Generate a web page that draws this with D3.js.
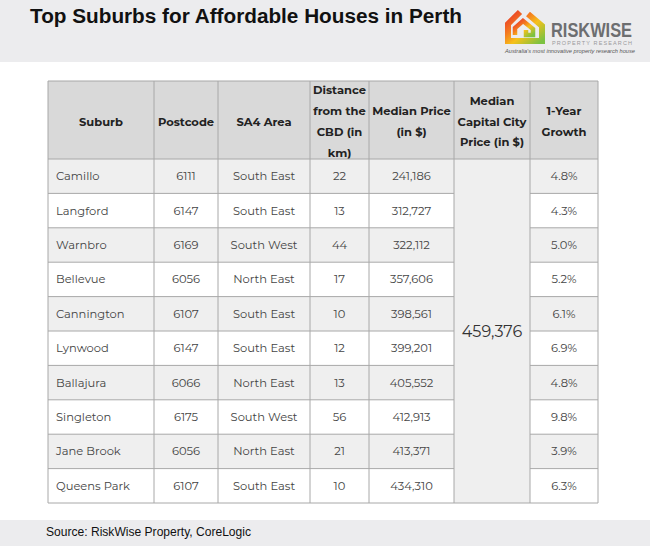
<!DOCTYPE html>
<html><head><meta charset="utf-8">
<script src="https://cdn.jsdelivr.net/npm/d3@7"></script>
<style>html,body{margin:0;padding:0;background:#fff;}svg{display:block;}</style>
</head><body>
<script>
// ---- data ----
const title = "Top Suburbs for Affordable Houses in Perth";
const source = "Source: RiskWise Property, CoreLogic";
const headers = [["Suburb"],["Postcode"],["SA4 Area"],["Distance","from the","CBD (in","km)"],["Median Price","(in $)"],["Median","Capital City","Price (in $)"],["1-Year","Growth"]];
const suburbs = ["Camillo","Langford","Warnbro","Bellevue","Cannington","Lynwood","Ballajura","Singleton","Jane Brook","Queens Park"];
const postcodes = ["6111","6147","6169","6056","6107","6147","6066","6175","6056","6107"];
const areas = ["South East","South East","South West","North East","South East","South East","North East","South West","North East","South East"];
const distances = [22,13,44,17,10,12,13,56,21,10];
const prices = [241186,312727,322112,357606,398561,399201,405552,412913,413371,434310];
const capitalPrice = 459376;
const growth = [4.8,4.3,5.0,5.2,6.1,6.9,4.8,9.8,3.9,6.3];

// ---- layout ----
const W=650,H=546;
const colEdges=[48,154,218,310,369,454,530,598];
const headTop=81, headBot=159, tableBot=503;
const fmt=d3.format(",");
const svg=d3.select("body").append("svg").attr("width",W).attr("height",H);

// top band
svg.append("rect").attr("x",0).attr("y",0).attr("width",W).attr("height",62).attr("fill","#ececee");
svg.append("text").attr("x",30).attr("y",22.5).text(title)
  .attr("font-family","Liberation Sans, Arial, sans-serif").attr("font-weight","bold").attr("font-size",20)
  .attr("textLength",432).attr("lengthAdjust","spacingAndGlyphs").attr("fill","#111");

// logo
const defs=svg.append("defs");
const g1=defs.append("linearGradient").attr("id","lg").attr("x1","0").attr("y1","0").attr("x2","1").attr("y2","1");
[["0%","#e8342a"],["35%","#f47a20"],["60%","#f6c11a"],["100%","#7cc242"]].forEach(s=>g1.append("stop").attr("offset",s[0]).attr("stop-color",s[1]));
const logo=svg.append("g");
logo.append("path").attr("d","M520,12 L508,24 L508,41 L542,41 L542,26 L528,14")
  .attr("fill","none").attr("stroke","url(#lg)").attr("stroke-width",6).attr("stroke-linejoin","miter");
logo.append("path").attr("d","M515,35 L515,28 L523,21 L533,29 L533,35 L526,35 L526,30")
  .attr("fill","none").attr("stroke","url(#lg)").attr("stroke-width",4.5);
logo.append("text").attr("x",551).attr("y",36.7).text("RISKWISE").attr("font-family","Liberation Sans, Arial, sans-serif")
  .attr("font-weight","bold").attr("font-size",19.5).attr("fill","#6d6e70").attr("textLength",81).attr("lengthAdjust","spacingAndGlyphs");
logo.append("text").attr("x",552).attr("y",45).text("PROPERTY RESEARCH").attr("font-family","Liberation Sans, Arial, sans-serif")
  .attr("font-size",5.5).attr("fill","#9a9a9c").attr("textLength",80).attr("lengthAdjust","spacing");
logo.append("text").attr("x",505).attr("y",53).text("Australia's most innovative property research house").attr("font-family","Liberation Sans, Arial, sans-serif")
  .attr("font-size",4.8).attr("font-style","italic").attr("fill","#555").attr("textLength",130).attr("lengthAdjust","spacingAndGlyphs");

// table
const y=d3.scaleBand().domain(d3.range(suburbs.length)).range([headBot,tableBot]);
const font="Montserrat, 'Open Sans', Lato, sans-serif";
const border="#a8a8a8";
const tbl=svg.append("g");
tbl.append("rect").attr("x",colEdges[0]).attr("y",headTop).attr("width",colEdges[7]-colEdges[0]).attr("height",headBot-headTop).attr("fill","#d9d9d9");
tbl.selectAll("rect.row").data(suburbs).join("rect").attr("class","row")
  .attr("x",colEdges[0]).attr("y",(d,i)=>y(i)).attr("width",colEdges[7]-colEdges[0]).attr("height",y.bandwidth())
  .attr("fill",(d,i)=>i%2===0?"#efefef":"#ffffff");
tbl.append("rect").attr("x",colEdges[5]).attr("y",headBot).attr("width",colEdges[6]-colEdges[5]).attr("height",tableBot-headBot).attr("fill","#efefef");

headers.forEach((lines,c)=>{
  const cx=(colEdges[c]+colEdges[c+1])/2, lh=20.7, cy=121.5;
  lines.forEach((l,k)=>{
    tbl.append("text").attr("x",cx).attr("y",cy+(k-(lines.length-1)/2)*lh).attr("dy","0.35em")
      .attr("text-anchor","middle").attr("font-family",font).attr("font-weight","bold").attr("font-size",11.5).attr("fill","#222").text(l);
  });
});
const cols=[suburbs,postcodes,areas,distances,prices.map(fmt),null,growth.map(d=>d.toFixed(1)+"%")];
cols.forEach((arr,c)=>{
  if(!arr) return;
  tbl.selectAll(null).data(arr).join("text")
    .attr("x",c===0?colEdges[0]+8:(colEdges[c]+colEdges[c+1])/2)
    .attr("y",(d,i)=>y(i)+y.bandwidth()/2).attr("dy","0.35em")
    .attr("text-anchor",c===0?"start":"middle")
    .attr("font-family",font).attr("font-size",11.5).attr("fill","#444").text(d=>d);
});
tbl.append("text").attr("x",(colEdges[5]+colEdges[6])/2).attr("y",(headBot+tableBot)/2).attr("dy","0.35em")
  .attr("text-anchor","middle").attr("font-family",font).attr("font-size",16).attr("fill","#333").text(fmt(capitalPrice));

const hl=[headTop,headBot,...d3.range(1,suburbs.length).map(i=>y(i)),tableBot];
hl.forEach((yy,k)=>{
  const isInner=k>=2&&k<hl.length-1;
  if(isInner){
    tbl.append("line").attr("x1",colEdges[0]).attr("x2",colEdges[5]).attr("y1",yy).attr("y2",yy).attr("stroke",border);
    tbl.append("line").attr("x1",colEdges[6]).attr("x2",colEdges[7]).attr("y1",yy).attr("y2",yy).attr("stroke",border);
  } else {
    tbl.append("line").attr("x1",colEdges[0]).attr("x2",colEdges[7]).attr("y1",yy).attr("y2",yy).attr("stroke",border);
  }
});
colEdges.forEach(xx=>tbl.append("line").attr("x1",xx).attr("x2",xx).attr("y1",headTop).attr("y2",tableBot).attr("stroke",border));

// footer
svg.append("rect").attr("x",0).attr("y",520).attr("width",W).attr("height",26).attr("fill","#ececee");
svg.append("text").attr("x",46).attr("y",535.7).text(source).attr("font-family","Liberation Sans, Arial, sans-serif")
  .attr("font-size",13).attr("textLength",205).attr("lengthAdjust","spacingAndGlyphs").attr("fill","#111");
</script>
</body></html>
